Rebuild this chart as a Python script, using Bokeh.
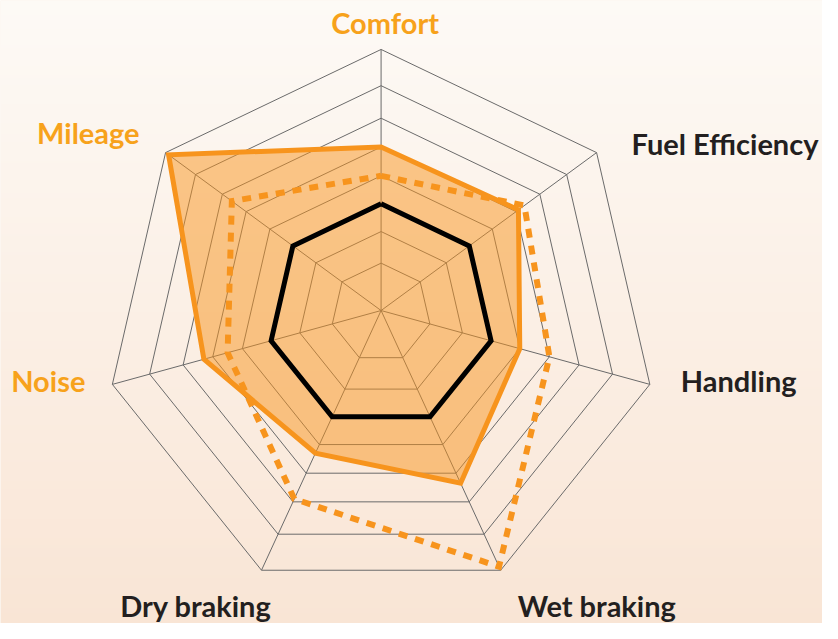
import numpy as np
from bokeh.plotting import figure
from bokeh.models import Range1d, ColumnDataSource
from bokeh.core.properties import value
from bokeh.embed import file_html
from bokeh.resources import INLINE

# ---------------- data ----------------
categories = ["Comfort", "Fuel Efficiency", "Handling", "Wet braking",
              "Dry braking", "Noise", "Mileage"]
highlighted = ["Comfort", "Noise", "Mileage"]
tyre_filled = [5.0, 5.1, 4.0, 5.35, 4.3, 5.3, 7.9]     # solid orange, filled
tyre_dashed = [4.0, 5.35, 5.0, 7.9, 5.9, 4.5, 5.6]     # dashed orange
tyre_black = [3.0, 3.0, 3.0, 3.0, 3.0, 3.0, 3.0]       # black outline
grid_levels = [1, 2, 3, 4, 5, 6, 7, 8]
max_level = 8

# radial scale: level -> radius (the original's grid rings are not evenly spaced)
scale_domain = [0, 1, 2, 3, 4, 5, 6, 7, 8]
scale_range = [0, 51, 85, 115, 145, 176, 207, 242, 281]

# ---------------- layout (canvas units = 838 x 639) ----------------
CW, CH = 838, 639
OX, OY = 388, 318          # where the spokes meet
TILT = 0.047               # ring centres drift downward with radius

n = len(categories)
angles = np.arange(n) * 2 * np.pi / n


def to_xy(values):
    r = np.interp(np.asarray(values, dtype=float), scale_domain, scale_range)
    X = OX + r * np.sin(angles)
    Y = OY - r * np.cos(angles) + TILT * r
    return list(X), list(CH - Y)


def closed(xs, ys):
    return xs + xs[:1], ys + ys[:1]


W, H = 822, 623
p = figure(width=W, height=H, output_backend="svg", toolbar_location=None,
           x_range=Range1d(0, CW), y_range=Range1d(0, CH),
           min_border=0, tools="")
p.axis.visible = False
p.xgrid.visible = False
p.ygrid.visible = False
p.outline_line_color = None
p.background_fill_color = "#fcf1e8"
p.border_fill_color = "#fcf1e8"

# background vertical gradient
top = np.array([253, 250, 246], dtype=float)
bot = np.array([249, 229, 213], dtype=float)
t = np.linspace(0, 1, H)[:, None]
cols = bot + (top - bot) * t
img = np.empty((H, 2), dtype=np.uint32)
view = img.view(dtype=np.uint8).reshape((H, 2, 4))
view[:, :, 0] = cols[:, 0:1].round()
view[:, :, 1] = cols[:, 1:2].round()
view[:, :, 2] = cols[:, 2:3].round()
view[:, :, 3] = 255
p.image_rgba(image=[img], x=0, y=0, dw=CW, dh=CH)

# grid rings and spokes
grid_color = "#6a6a6a"
ring_xs, ring_ys = [], []
for lvl in grid_levels:
    xs, ys = closed(*to_xy([lvl] * n))
    ring_xs.append(xs)
    ring_ys.append(ys)
p.multi_line(ring_xs, ring_ys, line_color=grid_color, line_width=1)

ox, oy = to_xy([max_level] * n)
cx, cy = to_xy([0] * n)
p.multi_line([[cx[i], ox[i]] for i in range(n)], [[cy[i], oy[i]] for i in range(n)],
             line_color=grid_color, line_width=1)

orange = "#F7941D"

# filled series
fx, fy = to_xy(tyre_filled)
p.patch(fx, fy, fill_color=orange, fill_alpha=0.5, line_color=orange,
        line_width=5, line_join="miter")

# black series
bx, by = closed(*to_xy(tyre_black))
p.line(bx, by, line_color="black", line_width=5, line_join="miter")

# dashed series
dx, dy = closed(*to_xy(tyre_dashed))
p.line(dx, dy, line_color=orange, line_width=6, line_dash="9 8", line_join="miter")

# labels: (x offset, y offset, alignment) from the outer vertex, in px
label_style = {
    "Comfort": (4, -27, "center"),
    "Fuel Efficiency": (35, -9, "left"),
    "Handling": (31, -4, "left"),
    "Wet braking": (17, 35, "left"),
    "Dry braking": (10, 35, "right"),
    "Noise": (-27, -4, "right"),
    "Mileage": (-26, -20, "right"),
}
for align in ["center", "left", "right"]:
    idx = [i for i, c in enumerate(categories) if label_style[c][2] == align]
    src = ColumnDataSource(dict(
        x=[ox[i] for i in idx],
        y=[oy[i] for i in idx],
        text=[categories[i] for i in idx],
        xo=[label_style[categories[i]][0] for i in idx],
        yo=[label_style[categories[i]][1] for i in idx],
        color=["#F7A21B" if categories[i] in highlighted else "#231F20" for i in idx],
    ))
    p.text(x="x", y="y", text="text", x_offset="xo", y_offset="yo", source=src,
           text_color="color", text_align=align, text_baseline="alphabetic",
           text_font=value("Lato"), text_font_style="bold", text_font_size="29px")

open("out.html", "w").write(file_html(p, INLINE))
